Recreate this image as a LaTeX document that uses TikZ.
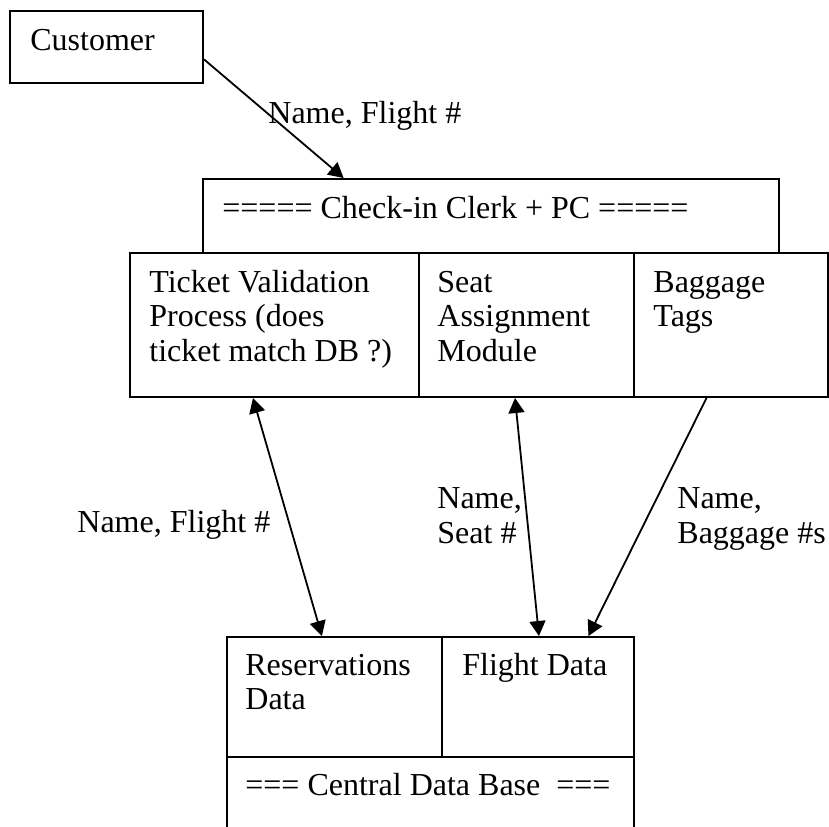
\documentclass[tikz,border=0pt]{standalone}
\usepackage{fontspec}
\setmainfont{Liberation Serif}
\usetikzlibrary{arrows.meta,calc}
\begin{document}
\begin{tikzpicture}[x=0.5pt,y=-0.5pt,
  box/.style={draw, line width=1pt, rectangle, inner sep=0pt, anchor=north west},
  txt/.style={inner sep=0pt, anchor=base west, align=left, font=\fontsize{16pt}{17.25pt}\selectfont},
  flow/.style={line width=0.9pt, -{Triangle[length=7.5pt,width=8pt]}},
  both/.style={line width=0.9pt, {Triangle[length=7.5pt,width=8pt]}-{Triangle[length=7.5pt,width=8pt]}}]
\path[use as bounding box, clip] (0,0) rectangle (829,826);
\fill[white] (0,0) rectangle (829,826);
% boxes
\node[box, minimum width=96.5pt, minimum height=36pt] (cust) at (9,10) {};
\node[box, minimum width=288pt, minimum height=37pt] (clerk) at (202,178) {};
\node[box, minimum width=144.5pt, minimum height=72pt] (tv) at (129,252) {};
\node[box, minimum width=107.5pt, minimum height=72pt] (seat) at (418,252) {};
\node[box, minimum width=96.75pt, minimum height=72pt] (bag) at (633,252) {};
\node[box, minimum width=107.5pt, minimum height=60pt] (res) at (226,636) {};
\node[box, minimum width=96pt, minimum height=60pt] (fd) at (441,636) {};
\node[box, minimum width=203.5pt, minimum height=52pt] (cdb) at (226,756) {};
% box texts (base anchor = baseline of last line)
\node[txt] (custT) at (30,50) {Customer};
\node[txt] (clerkT) at (222,218) {===== Check-in Clerk + PC =====};
\node[txt] (tvT) at (149,361) {Ticket Validation\\Process (does\\ticket match DB ?)};
\node[txt] (seatT) at (437,361) {Seat\\Assignment\\Module};
\node[txt] (bagT) at (653,326.5) {Baggage\\Tags};
\node[txt] (resT) at (245,709.5) {Reservations\\Data};
\node[txt] (fdT) at (462,675) {Flight Data};
\node[txt] (cdbT) at (245,795) {=== Central Data Base\ \ ===};
% connector labels
\node[txt] (l1) at (268,123) {Name, Flight \#};
\node[txt] (l2) at (77,532) {Name, Flight \#};
\node[txt] (l3) at (437,543) {Name,\\Seat \#};
\node[txt] (l4) at (677,543) {Name,\\Baggage \#s};
% connectors
\draw[flow] ($(cust.north east)!0.667!(cust.south east)$) -- ($(clerk.north west)!0.245!(clerk.north east)$);
\draw[both] ($(tv.south west)!0.426!(tv.south east)$) -- ($(res.north west)!0.442!(res.north east)$);
\draw[both] ($(seat.south west)!0.447!(seat.south east)$) -- ($(fd.north west)!0.505!(fd.north east)$);
\draw[flow] ($(bag.south west)!0.376!(bag.south east)$) -- ($(fd.north west)!0.76!(fd.north east)$);
\end{tikzpicture}
\end{document}
